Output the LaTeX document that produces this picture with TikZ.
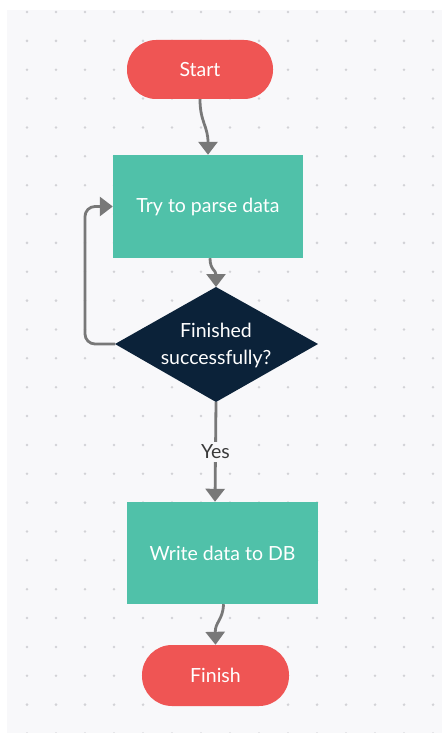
\documentclass[tikz,border=0pt]{standalone}
\usepackage{fontspec}
\setmainfont{Lato}
\usetikzlibrary{arrows.meta}
\definecolor{bgc}{HTML}{F8F8FA}
\definecolor{dotc}{HTML}{D2D2D6}
\definecolor{redc}{HTML}{EF5554}
\definecolor{tealc}{HTML}{50C1A9}
\definecolor{navyc}{HTML}{0B2239}
\definecolor{linec}{HTML}{787878}
\definecolor{txtc}{HTML}{3A3A3A}
\tikzset{
  pill/.style={fill=redc, text=white, rounded corners=29pt, inner sep=0pt, font=\fontsize{19.5}{24}\selectfont},
  procbox/.style={fill=tealc, text=white, inner sep=0pt, font=\fontsize{19.5}{24}\selectfont},
  conn/.style={draw=linec, line width=2.8pt, -{Triangle[width=19pt,length=13pt]}},
  lbl/.style={fill=bgc, text=txtc, inner sep=3pt, font=\fontsize{19.5}{24}\selectfont}
}
\begin{document}
\begin{tikzpicture}[x=1pt,y=-1pt]
\useasboundingbox (0,0) rectangle (442,733);
\fill[white] (0,0) rectangle (442,733);
\fill[bgc] (7,10) rectangle (442,733);
\foreach \i in {0,...,14}{
  \foreach \j in {0,...,25}{
    \fill[dotc] ({27+29*\i},{12+28.86*\j}) circle (1.4);
  }
}
% nodes
\node[pill, minimum width=146pt, minimum height=59pt] (start) at (200,69.5) {Start};
\node[procbox, minimum width=190pt, minimum height=103pt] (parse) at (208,206.5) {Try to parse data};
\coordinate (dt) at (216,287);
\coordinate (dr) at (318,344);
\coordinate (db) at (216,402);
\coordinate (dl) at (115,344);
\fill[navyc] (dt) -- (dr) -- (db) -- (dl) -- cycle;
\node[text=white, align=center, font=\fontsize{19.5}{27}\selectfont] (dec) at (216,345) {Finished\\successfully?};
\node[procbox, minimum width=191pt, minimum height=102pt] (write) at (222.5,553) {Write data to DB};
\node[pill, minimum width=147pt, minimum height=61pt, rounded corners=30pt] (finish) at (215.5,675.5) {Finish};
% connectors
\draw[conn] (start.south) .. controls (200,122) and (208,126) .. (parse.north);
\draw[conn] ([xshift=2pt]parse.south) .. controls (210,270) and (216,270) .. (dt);
\draw[conn, rounded corners=10pt] (dl) -- ++(-30,0) |- (parse.west);
\draw[conn] (db) -- node[lbl, pos=0.5] (yes) {Yes} ([xshift=-7.5pt]write.north);
\draw[conn] ([xshift=1pt]write.south) .. controls (223,620) and (215,622) .. (finish.north);
\end{tikzpicture}
\end{document}
